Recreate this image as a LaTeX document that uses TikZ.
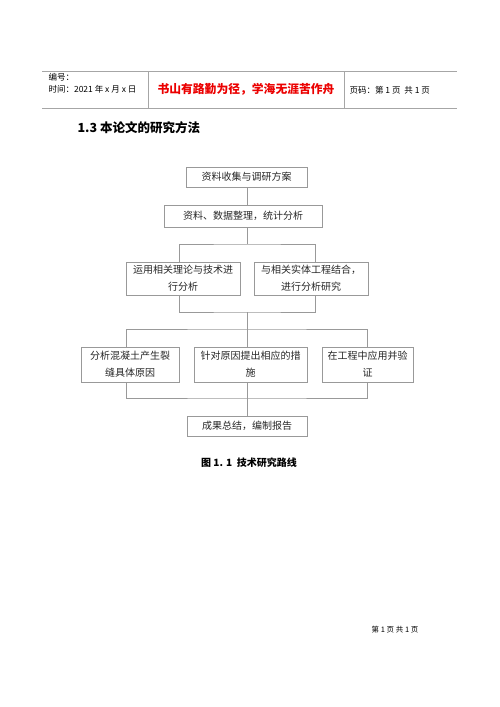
\documentclass[tikz,border=0pt]{standalone}
\usepackage{fontspec}
\setmainfont{Noto Sans CJK SC}
\usetikzlibrary{positioning}

\begin{document}
\begin{tikzpicture}[x=1pt,y=-1pt,
  box/.style={draw=gray!80,line width=0.7pt,align=center,inner sep=2pt,
    text=black!85,font=\fontsize{10}{17}\selectfont},
  link/.style={draw=gray!80,line width=0.7pt},
  rule/.style={draw=gray!70,line width=0.8pt}]
\useasboundingbox (0,0) rectangle (500,707);
% page header
\draw[rule] (42,71) -- (457,71);
\draw[rule] (42,108) -- (457,108);
\draw[rule] (148,71) -- (148,108);
\draw[rule] (344,71) -- (344,108);
\node[anchor=west,font=\fontsize{8.5}{9}\selectfont] (num) at (45,77) {编号：};
\node[anchor=west,font=\fontsize{8.5}{9}\selectfont] (date) at (45,89) {时间：2021 年 x 月 x 日};
\node[font=\fontsize{11.8}{13}\selectfont\bfseries,text=red!92!black] (motto) at (246,89) {书山有路勤为径，学海无涯苦作舟};
\node[anchor=west,font=\fontsize{8.5}{9}\selectfont] (pg) at (346,90) {页码：第 1 页\ \ 共 1 页};
% heading
\node[anchor=west,font=\fontsize{12.5}{14}\selectfont\bfseries] (sec) at (74,128) {1.3 本论文的研究方法};

% boxes
\node[box,minimum width=121,minimum height=20] (collect) at (246.5,177) {资料收集与调研方案};
\node[box,minimum width=158,minimum height=22] (sort) at (243,216) {资料、数据整理，统计分析};
\node[box,minimum width=114,minimum height=33] (theory) at (183,278.5) {运用相关理论与技术进\\行分析};
\node[box,minimum width=114,minimum height=33] (project) at (311,278.5) {与相关实体工程结合，\\进行分析研究};
\node[box,minimum width=98,minimum height=35] (cause) at (130,364.5) {分析混凝土产生裂\\缝具体原因};
\node[box,minimum width=113,minimum height=35] (measure) at (250.5,364.5) {针对原因提出相应的措\\施};
\node[box,minimum width=91,minimum height=35] (apply) at (367.5,364.5) {在工程中应用并验\\证};
\node[box,minimum width=120,minimum height=20] (report) at (247,426) {成果总结，编制报告};

% junctions
\coordinate (split1) at (247,244);
\coordinate (merge1) at (247,312);
\coordinate (split2) at (247,329);
\coordinate (merge2) at (247,398);

% connectors
\draw[link] (collect.south -| split1) -- (sort.north -| split1);
\draw[link] (sort.south -| split1) -- (split1);
\draw[link] ([xshift=-4pt]theory.north) |- (split1) -| ([xshift=4pt]project.north);
\draw[link] ([xshift=-4pt]theory.south) |- (merge1) -| ([xshift=4pt]project.south);
\draw[link] (merge1) -- (split2);
\draw[link] ([xshift=-4pt]cause.north) |- (split2) -| ([xshift=-0.5pt]apply.north);
\draw[link] (split2) -- (measure.north -| split2);
\draw[link] ([xshift=-4pt]cause.south) |- (merge2) -| ([xshift=-0.5pt]apply.south);
\draw[link] (measure.south -| merge2) -- (merge2);
\draw[link] (merge2) -- (report.north);

% caption and footer
\node[font=\fontsize{10}{12}\selectfont\bfseries] (cap) at (249,463) {图 1. 1\ \ 技术研究路线};
\node[font=\fontsize{7.5}{8}\selectfont] (foot) at (395,630) {第 1 页\ 共 1 页};
\end{tikzpicture}
\end{document}
